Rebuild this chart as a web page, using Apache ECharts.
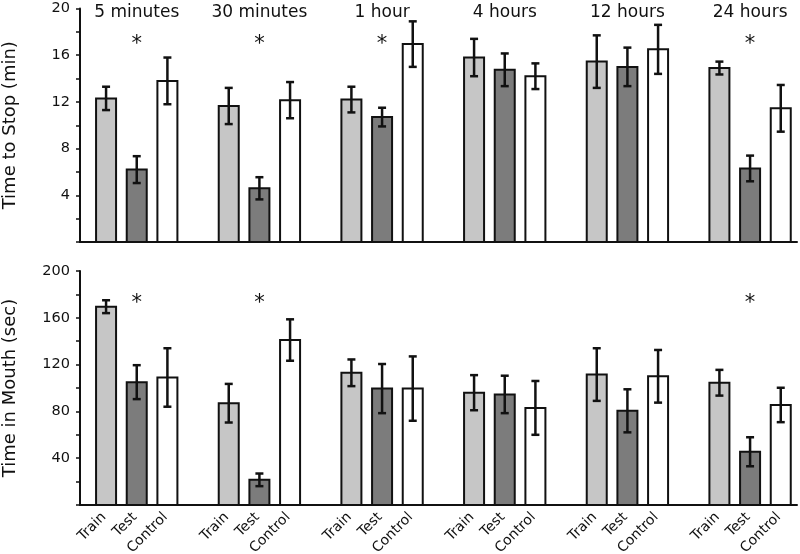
<!DOCTYPE html>
<html><head><meta charset="utf-8">
<script src="https://cdn.jsdelivr.net/npm/echarts@6/dist/echarts.min.js"></script>
<style>html,body{margin:0;padding:0;background:#fff}#c{width:800px;height:554px}</style>
</head><body><div id="c"></div>
<script>
// ---- data ----
const groups = ['5 minutes', '30 minutes', '1 hour', '4 hours', '12 hours', '24 hours'];
const conditions = ['Train', 'Test', 'Control'];

const stopTrain = [12.3, 11.65, 12.2, 15.8, 15.45, 14.9];
const stopTrainErr = [1.0, 1.55, 1.1, 1.6, 2.25, 0.55];
const stopTest = [6.2, 4.6, 10.7, 14.75, 15.0, 6.3];
const stopTestErr = [1.15, 0.95, 0.8, 1.4, 1.65, 1.1];
const stopControl = [13.8, 12.15, 16.95, 14.2, 16.5, 11.45];
const stopControlErr = [2.0, 1.55, 1.95, 1.1, 2.1, 2.0];

const mouthTrain = [169.5, 87, 113, 96, 111.5, 104.5];
const mouthTrainErr = [5.5, 16.5, 11.4, 15, 22.5, 11];
const mouthTest = [105, 21.5, 99.5, 94.5, 80.5, 45.5];
const mouthTestErr = [14.5, 5.4, 21, 16, 18.4, 12.4];
const mouthControl = [109, 141, 99.5, 83, 110, 85.5];
const mouthControlErr = [25, 17.7, 27.5, 23, 22.5, 14.7];

const stopSignificant = [true, true, true, false, false, true];
const mouthSignificant = [true, true, false, false, false, true];

const stopAxis = { min: 0, max: 20, interval: 4 };
const mouthAxis = { min: 0, max: 200, interval: 40 };
const stopStarLevel = 17.1;
const mouthStarLevel = 174;

// ---- build ----
const FONT = 'DejaVu Sans';
const fills = ['#c6c6c6', '#7c7c7c', '#ffffff'];
// x positions in twentieths of a bar slot; 4 slots per group (3 bars + gap)
const slot = (g, c) => 20 * (4 * g + c) + 17;
const X_MIN = 0, X_MAX = 467.6;
const BAR_W = 20;

function barSeries(vals, errs, c, axisIdx, withLabel) {
  return {
    type: 'custom', name: conditions[c], xAxisIndex: axisIdx, yAxisIndex: axisIdx, z: 2,
    data: vals.map((v, g) => [slot(g, c), v, v - errs[g], v + errs[g]]),
    renderItem: function (params, api) {
      const x = api.value(0);
      const p0 = api.coord([x, 0]);
      const pV = api.coord([x, api.value(1)]);
      const pLo = api.coord([x, api.value(2)]);
      const pHi = api.coord([x, api.value(3)]);
      const w = 4;
      const st = { stroke: '#111', lineWidth: 2.5 };
      const children = [
        { type: 'rect', shape: { x: p0[0] - BAR_W / 2, y: pV[1], width: BAR_W, height: p0[1] - pV[1] },
          style: { fill: fills[c], stroke: '#111', lineWidth: 2 } },
        { type: 'line', shape: { x1: pHi[0], y1: pHi[1], x2: pLo[0], y2: pLo[1] }, style: st },
        { type: 'line', shape: { x1: pHi[0] - w, y1: pHi[1], x2: pHi[0] + w, y2: pHi[1] }, style: st },
        { type: 'line', shape: { x1: pLo[0] - w, y1: pLo[1], x2: pLo[0] + w, y2: pLo[1] }, style: st }
      ];
      if (withLabel) {
        children.push({
          type: 'text', x: p0[0] - 2, y: p0[1] + 10, rotation: Math.PI / 4,
          style: { text: conditions[c], align: 'right', verticalAlign: 'middle',
                   fontFamily: FONT, fontSize: 14, fill: '#111' }
        });
      }
      return { type: 'group', children: children };
    }
  };
}

function textSeries(items, axisIdx, fontSize, dy) {
  return {
    type: 'custom', xAxisIndex: axisIdx, yAxisIndex: axisIdx, z: 6, silent: true,
    data: items.map(it => ({ value: it.value, name: it.name })),
    renderItem: function (params, api) {
      const p = api.coord([api.value(0), api.value(1)]);
      return {
        type: 'text', x: p[0], y: p[1] + dy,
        style: { text: items[params.dataIndex].name, align: 'center', verticalAlign: 'middle',
                 fontFamily: FONT, fontSize: fontSize, fill: '#111' }
      };
    }
  };
}

const titleItems = groups.map((name, g) => ({ value: [slot(g, 1), stopAxis.max], name: name }));
const stopStars = stopSignificant.map((f, g) => f ? { value: [slot(g, 1), stopStarLevel], name: '*' } : null).filter(d => d);
const mouthStars = mouthSignificant.map((f, g) => f ? { value: [slot(g, 1), mouthStarLevel], name: '*' } : null).filter(d => d);

function xAx(gi) {
  return {
    type: 'value', gridIndex: gi, min: X_MIN, max: X_MAX,
    axisLine: { show: true, onZero: false, lineStyle: { color: '#111', width: 2 } },
    axisTick: { show: false }, axisLabel: { show: false }, splitLine: { show: false }
  };
}
function yAx(gi, ax, name) {
  return {
    type: 'value', gridIndex: gi, min: ax.min, max: ax.max, interval: ax.interval,
    name: name, nameLocation: 'middle', nameGap: 61,
    nameTextStyle: { fontFamily: FONT, fontSize: 18, color: '#111' },
    axisLine: { show: true, onZero: false, lineStyle: { color: '#111', width: 2 } },
    axisTick: { show: true, inside: false, length: 4, lineStyle: { color: '#111', width: 1.5 } },
    minorTick: { show: true, splitNumber: 2, length: 4, lineStyle: { color: '#111', width: 1.5 } },
    axisLabel: { fontFamily: FONT, fontSize: 14.5, color: '#111', margin: 10, formatter: v => v === 0 ? '' : String(v) },
    splitLine: { show: false }, minorSplitLine: { show: false }
  };
}

const option = {
  animation: false,
  backgroundColor: '#fff',
  grid: [
    { left: 80, right: 3, top: 8.5, height: 233.5, containLabel: false, outerBoundsMode: 'none' },
    { left: 80, right: 3, top: 271, height: 234, containLabel: false, outerBoundsMode: 'none' }
  ],
  xAxis: [xAx(0), xAx(1)],
  yAxis: [yAx(0, stopAxis, 'Time to Stop (min)'), yAx(1, mouthAxis, 'Time in Mouth (sec)')],
  series: [
    barSeries(stopTrain, stopTrainErr, 0, 0, false),
    barSeries(stopTest, stopTestErr, 1, 0, false),
    barSeries(stopControl, stopControlErr, 2, 0, false),
    barSeries(mouthTrain, mouthTrainErr, 0, 1, true),
    barSeries(mouthTest, mouthTestErr, 1, 1, true),
    barSeries(mouthControl, mouthControlErr, 2, 1, true),
    textSeries(titleItems, 0, 17, 4),
    textSeries(stopStars, 0, 21, 2),
    textSeries(mouthStars, 1, 21, 2)
  ]
};
const chart = echarts.init(document.getElementById('c'), null, { renderer: 'canvas' });
chart.setOption(option);
</script>
</body></html>
